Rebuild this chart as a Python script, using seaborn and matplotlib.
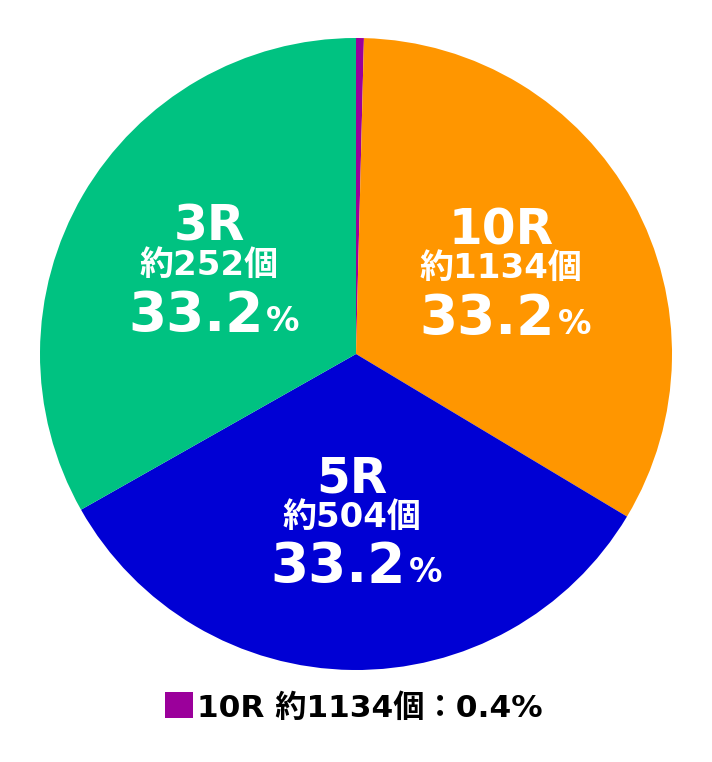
import numpy as np
import matplotlib
matplotlib.use("Agg")
import matplotlib.pyplot as plt
from matplotlib.patches import Rectangle
import seaborn as sns

# Round-type share of jackpots
rounds = ["10R", "10R", "5R", "3R"]
counts = ["約1134個", "約1134個", "約504個", "約252個"]
shares = [0.4, 33.2, 33.2, 33.2]
colors = ["#9B009B", "#FF9600", "#0000D4", "#00C281"]
show_inside = [False, True, True, True]

sns.set_theme(style="white")
FAMILY = ["DejaVu Sans", "Noto Sans CJK JP"]
plt.rcParams["font.family"] = FAMILY

W, H = 712, 762
fig = plt.figure(figsize=(W / 100, H / 100), dpi=100)
fig.patch.set_facecolor("white")

# pie occupies a square area with centre (356, 354) px and radius 316 px
cx, cy, R = 356, 354, 316
ax = fig.add_axes([(cx - R) / W, (H - cy - R) / H, 2 * R / W, 2 * R / H])

wedges, _ = ax.pie(shares, colors=sns.color_palette(colors), startangle=90,
                   counterclock=False, radius=1,
                   wedgeprops=dict(linewidth=0, antialiased=True))
ax.set_xlim(-1, 1)
ax.set_ylim(-1, 1)
ax.set_aspect("equal")
ax.axis("off")

PX = 72 / 100  # pixels -> points
for w, rnd, cnt, val, inside in zip(wedges, rounds, counts, shares, show_inside):
    if not inside:
        continue
    mid = np.deg2rad((w.theta1 + w.theta2) / 2)
    x, y = 0.53 * np.cos(mid), 0.53 * np.sin(mid)
    common = dict(xy=(x, y), xycoords="data", textcoords="offset points",
                  color="white", fontweight="bold", va="baseline", family=FAMILY)
    ax.annotate(rnd, xytext=(-2 * PX, 29 * PX), ha="center", fontsize=35, **common)
    ax.annotate(cnt, xytext=(-2 * PX, -5 * PX), ha="center", fontsize=24.5, **common)
    ax.annotate(f"{val:.1f}", xytext=(52 * PX, -61 * PX), ha="right",
                fontsize=39.5, **common)
    ax.annotate("%", xytext=(55 * PX, -61 * PX), ha="left", fontsize=24, **common)

# note for the tiny slice below the pie
fig.patches.append(Rectangle((165 / W, (H - 718) / H), 28 / W, 26 / H,
                             transform=fig.transFigure, facecolor=colors[0],
                             edgecolor="none"))
fig.text(197 / W, (H - 717) / H, f"{rounds[0]} {counts[0]}：{shares[0]:.1f}%",
         fontsize=22.5, fontweight="bold", color="black", ha="left",
         va="baseline", family=FAMILY)

fig.savefig("out.png", dpi=100, facecolor="white")
